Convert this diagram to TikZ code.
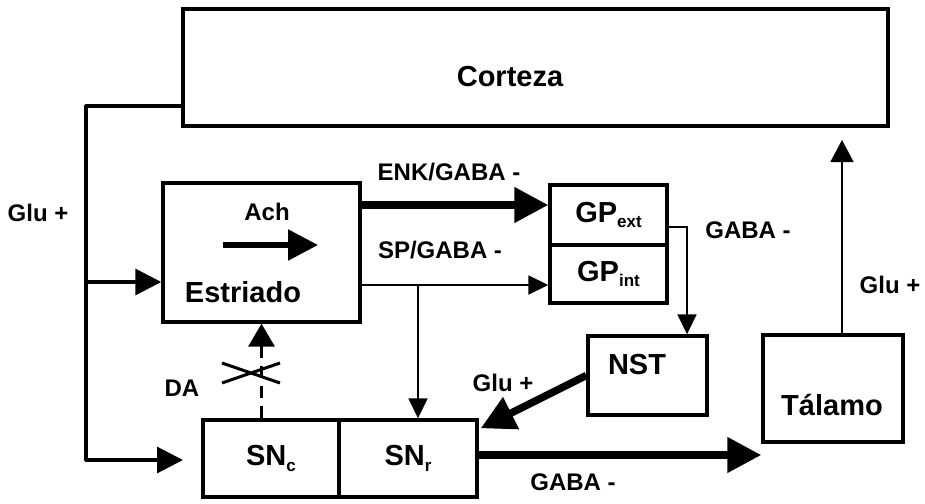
\documentclass[tikz,border=0pt]{standalone}
\usepackage{fontspec}
\setmainfont{Liberation Sans}
\usetikzlibrary{arrows.meta}
\newcommand{\subtxt}[1]{\raisebox{-0.35ex}{\fontsize{17}{17}\selectfont #1}}

\begin{document}
\begin{tikzpicture}[x=1pt, y=-1pt,
    box/.style={draw, line width=3.4pt, inner sep=0pt, font=\fontsize{29}{32}\selectfont\bfseries},
    lbl/.style={font=\fontsize{24}{26}\selectfont\bfseries, inner sep=0pt},
    fat/.style={line width=7.5pt, -{Triangle[length=34pt,width=34pt]}},
    slim/.style={line width=1.8pt, -{Triangle[length=20pt,width=19pt]}},
    feed/.style={line width=3.2pt, line join=round, -{Triangle[length=26pt,width=26pt]}}]
  \useasboundingbox (0,0) rectangle (925,503);

  % boxes
  \node[box, minimum width=705pt, minimum height=117pt] (cortex) at (535.5,67.5) {};
  \node[box, minimum width=197pt, minimum height=139pt] (estriado) at (261.5,252.5) {};
  \node[box, minimum width=117pt, minimum height=60pt] (gpext) at (608.5,215) {GP\subtxt{ext}};
  \node[box, minimum width=117pt, minimum height=58pt] (gpint) at (608.5,274) {GP\subtxt{int}};
  \node[box, minimum width=119pt, minimum height=79pt] (nst) at (647.5,375.5) {};
  \node[box, minimum width=140pt, minimum height=107pt] (talamo) at (833,388.5) {};
  \node[box, minimum width=136pt, minimum height=77pt] (snc) at (271,458.5) {SN\subtxt{c}};
  \node[box, minimum width=138pt, minimum height=77pt] (snr) at (408,458.5) {SN\subtxt{r}};

  % box texts off centre
  \node[box, draw=none] (cortextxt) at (510,77) {Corteza};
  \node[box, draw=none] (esttxt) at (243,292) {Estriado};
  \node[box, draw=none] (nsttxt) at (637,365) {NST};
  \node[box, draw=none] (taltxt) at (832,405) {Tálamo};

  % Ach inside the striatum
  \node[lbl] (ach) at (267,212) {Ach};
  \coordinate (achfrom) at (223,245);
  \coordinate (achto) at (318,245);
  \draw[line width=5.5pt, -{Triangle[length=30pt,width=30pt]}] (achfrom) -- (achto);

  % cortical input
  \coordinate (fbtop) at (86,106);
  \coordinate (fbmid) at (86,282);
  \coordinate (snin) at (183,460);
  \draw[feed] (cortex.west |- fbtop) -- (fbtop) |- (snin);
  \draw[feed] (fbmid) -- (estriado.west |- fbmid);
  \node[lbl] (glucx) at (38,213) {Glu +};

  % striatal outputs
  \coordinate (enk) at (450,205);
  \coordinate (spfork) at (418,285);
  \draw[fat] (estriado.east |- enk) -- (gpext.west |- enk);
  \draw[slim] (estriado.east |- spfork) -- (gpint.west |- spfork);
  \draw[slim] (spfork) -- (snr.north -| spfork);
  \node[lbl] (enklbl) at (449,172) {ENK/GABA -};
  \node[lbl] (splbl) at (440,250) {SP/GABA -};

  % GPext to NST
  \coordinate (gpkink) at (687,227);
  \draw[slim] (gpext.east |- gpkink) -- (gpkink) -- (nst.north -| gpkink);
  \node[lbl] (gabagp) at (748,230) {GABA -};

  % NST to SNr
  \draw[fat] (nst.west) -- ([xshift=2pt,yshift=-10pt]snr.north east);
  \node[lbl] (glunst) at (503,383) {Glu +};

  % SNr to thalamus
  \coordinate (gabaout) at (600,455);
  \draw[fat] (snr.east |- gabaout) -- (talamo.west |- gabaout);
  \node[lbl] (gabasn) at (573,482) {GABA -};

  % thalamus to cortex
  \coordinate (gluup) at (842,140);
  \draw[line width=1.8pt, -{Triangle[length=22pt,width=23pt]}] (talamo.north -| gluup) -- (gluup);
  \node[lbl] (gluth) at (890,285) {Glu +};

  % dopamine, cut
  \draw[line width=3.5pt, dash pattern=on 12pt off 8pt, -{Triangle[length=23pt,width=26pt]}]
    (snc.north -| estriado.south) -- (estriado.south);
  \draw[line width=3pt] (222,363) -- (280,383) (222,383) -- (280,363);
  \node[lbl] (da) at (182,388) {DA};
\end{tikzpicture}
\end{document}
